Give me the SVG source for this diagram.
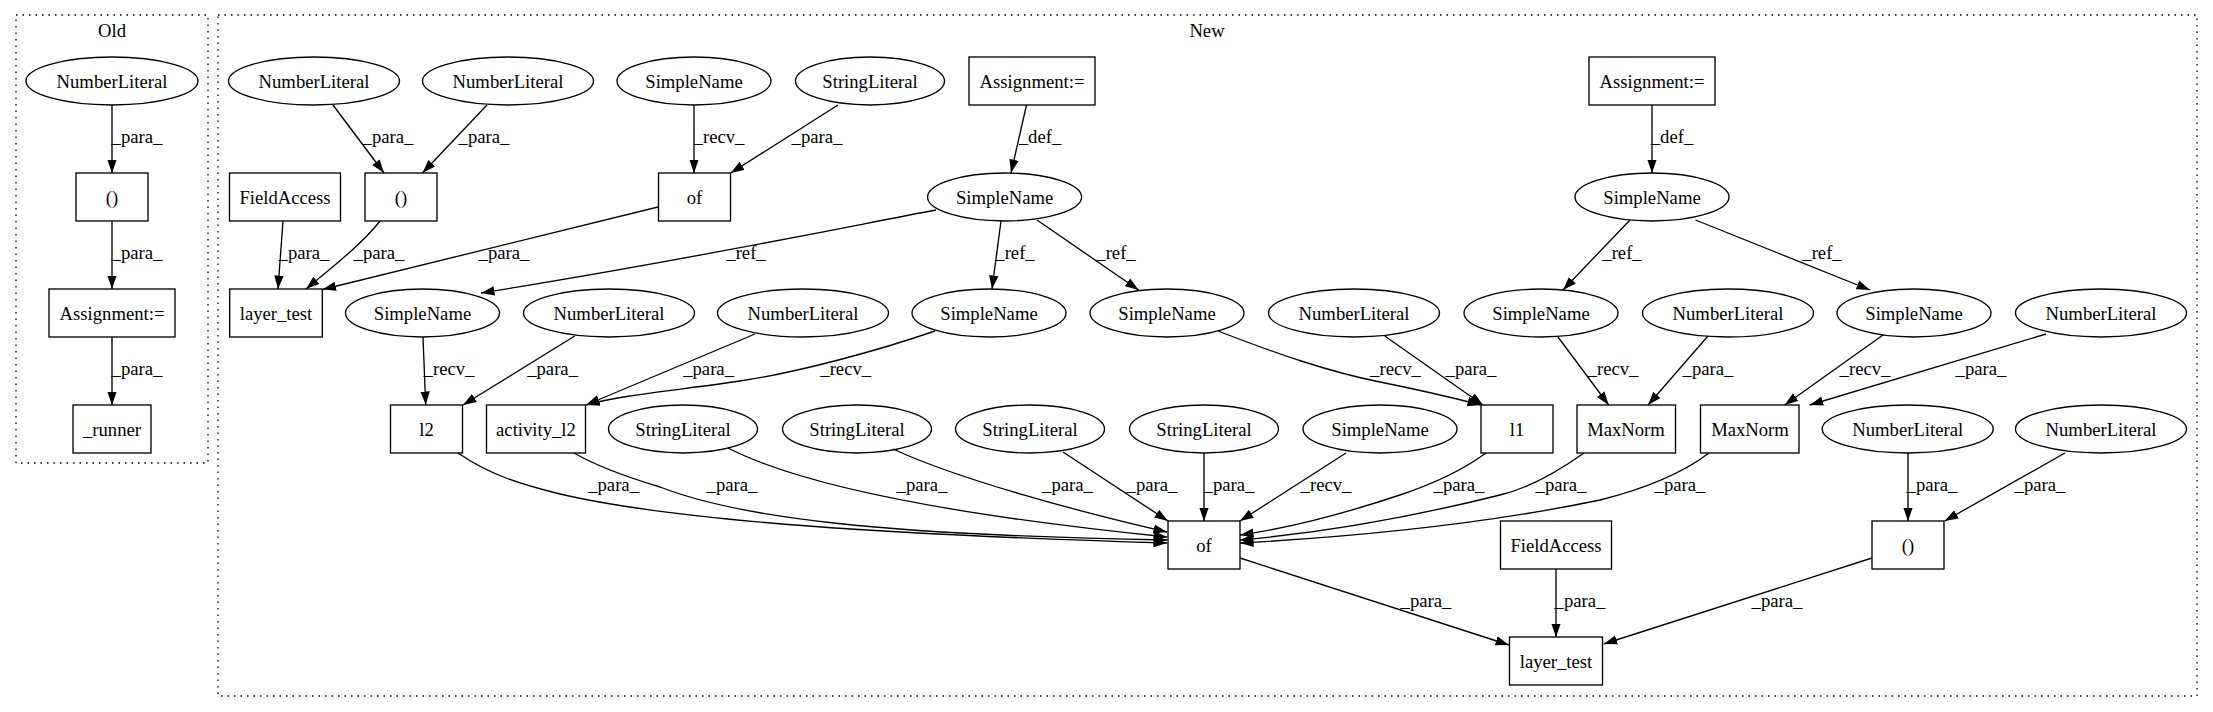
<svg xmlns="http://www.w3.org/2000/svg" width="2213" height="712" viewBox="0 0 2213 712" font-family="Liberation Serif, DejaVu Serif, serif">
<defs>
<style>
text{font-family:'Liberation Serif','DejaVu Serif',serif;font-size:18.67px;text-anchor:middle;fill:#000}
.n ellipse,.n rect{fill:none;stroke:#000;stroke-width:1.33}
.e path{fill:none;stroke:#000;stroke-width:1.33;marker-end:url(#ah)}
.cl{fill:none;stroke:#000;stroke-width:1.33;stroke-dasharray:1.5,5}
</style>
<marker id="ah" viewBox="0 0 14 10" markerWidth="14" markerHeight="10" refX="13.5" refY="5" orient="auto" markerUnits="userSpaceOnUse"><path d="M0,0.3 L13.5,5 L0,9.7 z" fill="#000"/></marker>
</defs>
<rect width="2213" height="712" fill="#fff"/>
<g id="clusters">
<rect class="cl" x="16" y="15" width="192" height="448"/>
<text x="112" y="37">Old</text>
<rect class="cl" x="218" y="15" width="1979" height="681"/>
<text x="1207" y="37">New</text>
</g>
<g id="old_nl" class="n"><ellipse cx="112" cy="81" rx="86" ry="24"/><text x="112" y="87.5">NumberLiteral</text></g>
<g id="old_paren" class="n"><rect x="76" y="173" width="72" height="48"/><text x="112" y="203.5">()</text></g>
<g id="old_assign" class="n"><rect x="49" y="289" width="126" height="48"/><text x="112" y="319.5">Assignment:=</text></g>
<g id="old_runner" class="n"><rect x="73" y="405" width="78" height="48"/><text x="112" y="435.5">_runner</text></g>
<g id="n_nl1" class="n"><ellipse cx="314" cy="81" rx="85.5" ry="24"/><text x="314" y="87.5">NumberLiteral</text></g>
<g id="n_nl2" class="n"><ellipse cx="508" cy="81" rx="85.5" ry="24"/><text x="508" y="87.5">NumberLiteral</text></g>
<g id="n_sn1" class="n"><ellipse cx="694" cy="81" rx="77" ry="24"/><text x="694" y="87.5">SimpleName</text></g>
<g id="n_sl1" class="n"><ellipse cx="870" cy="81" rx="74.5" ry="24"/><text x="870" y="87.5">StringLiteral</text></g>
<g id="n_as1" class="n"><rect x="969" y="57" width="126" height="48"/><text x="1032" y="87.5">Assignment:=</text></g>
<g id="n_as2" class="n"><rect x="1589" y="57" width="126" height="48"/><text x="1652" y="87.5">Assignment:=</text></g>
<g id="n_fa1" class="n"><rect x="229.5" y="173" width="111" height="48"/><text x="285" y="203.5">FieldAccess</text></g>
<g id="n_par1" class="n"><rect x="365" y="173" width="72" height="48"/><text x="401" y="203.5">()</text></g>
<g id="n_of1" class="n"><rect x="658.5" y="173" width="72" height="48"/><text x="694.5" y="203.5">of</text></g>
<g id="n_sn2" class="n"><ellipse cx="1004.6" cy="197" rx="77" ry="24"/><text x="1004.6" y="203.5">SimpleName</text></g>
<g id="n_sn3" class="n"><ellipse cx="1652" cy="197" rx="77" ry="24"/><text x="1652" y="203.5">SimpleName</text></g>
<g id="n_lt1" class="n"><rect x="229.7" y="289" width="92.6" height="48"/><text x="276" y="319.5">layer_test</text></g>
<g id="n_sn4" class="n"><ellipse cx="422.5" cy="313" rx="77" ry="24"/><text x="422.5" y="319.5">SimpleName</text></g>
<g id="n_nl3" class="n"><ellipse cx="609" cy="313" rx="85.5" ry="24"/><text x="609" y="319.5">NumberLiteral</text></g>
<g id="n_nl4" class="n"><ellipse cx="803" cy="313" rx="85.5" ry="24"/><text x="803" y="319.5">NumberLiteral</text></g>
<g id="n_sn5" class="n"><ellipse cx="989" cy="313" rx="77" ry="24"/><text x="989" y="319.5">SimpleName</text></g>
<g id="n_sn6" class="n"><ellipse cx="1167" cy="313" rx="77" ry="24"/><text x="1167" y="319.5">SimpleName</text></g>
<g id="n_nl5" class="n"><ellipse cx="1354" cy="313" rx="85.5" ry="24"/><text x="1354" y="319.5">NumberLiteral</text></g>
<g id="n_sn7" class="n"><ellipse cx="1541" cy="313" rx="77" ry="24"/><text x="1541" y="319.5">SimpleName</text></g>
<g id="n_nl6" class="n"><ellipse cx="1728" cy="313" rx="85.5" ry="24"/><text x="1728" y="319.5">NumberLiteral</text></g>
<g id="n_sn8" class="n"><ellipse cx="1914" cy="313" rx="77" ry="24"/><text x="1914" y="319.5">SimpleName</text></g>
<g id="n_nl7" class="n"><ellipse cx="2101" cy="313" rx="85.5" ry="24"/><text x="2101" y="319.5">NumberLiteral</text></g>
<g id="n_l2" class="n"><rect x="390.5" y="405" width="72" height="48"/><text x="426.5" y="435.5">l2</text></g>
<g id="n_al2" class="n"><rect x="486.5" y="405" width="99" height="48"/><text x="536" y="435.5">activity_l2</text></g>
<g id="n_sl2" class="n"><ellipse cx="683" cy="429" rx="74.5" ry="24"/><text x="683" y="435.5">StringLiteral</text></g>
<g id="n_sl3" class="n"><ellipse cx="857" cy="429" rx="74.5" ry="24"/><text x="857" y="435.5">StringLiteral</text></g>
<g id="n_sl4" class="n"><ellipse cx="1030" cy="429" rx="74.5" ry="24"/><text x="1030" y="435.5">StringLiteral</text></g>
<g id="n_sl5" class="n"><ellipse cx="1204" cy="429" rx="74.5" ry="24"/><text x="1204" y="435.5">StringLiteral</text></g>
<g id="n_sn9" class="n"><ellipse cx="1380" cy="429" rx="77" ry="24"/><text x="1380" y="435.5">SimpleName</text></g>
<g id="n_l1" class="n"><rect x="1481" y="405" width="72" height="48"/><text x="1517" y="435.5">l1</text></g>
<g id="n_mn1" class="n"><rect x="1577" y="405" width="98.5" height="48"/><text x="1626" y="435.5">MaxNorm</text></g>
<g id="n_mn2" class="n"><rect x="1700.5" y="405" width="98.5" height="48"/><text x="1750" y="435.5">MaxNorm</text></g>
<g id="n_nl8" class="n"><ellipse cx="1907.7" cy="429" rx="85.5" ry="24"/><text x="1907.7" y="435.5">NumberLiteral</text></g>
<g id="n_nl9" class="n"><ellipse cx="2101" cy="429" rx="85.5" ry="24"/><text x="2101" y="435.5">NumberLiteral</text></g>
<g id="n_of2" class="n"><rect x="1168" y="521" width="72" height="48"/><text x="1204" y="551.5">of</text></g>
<g id="n_fa2" class="n"><rect x="1500.5" y="521" width="111" height="48"/><text x="1556" y="551.5">FieldAccess</text></g>
<g id="n_par2" class="n"><rect x="1872" y="521" width="72" height="48"/><text x="1908" y="551.5">()</text></g>
<g id="n_lt2" class="n"><rect x="1509.5" y="637" width="93" height="48"/><text x="1556" y="667.5">layer_test</text></g>
<g id="connectors" class="e">
<path d="M112,105 L112,173"/><text x="137" y="143">_para_</text>
<path d="M112,221 L112,289"/><text x="137" y="259">_para_</text>
<path d="M112,337 L112,405"/><text x="137" y="375">_para_</text>
<path d="M333,105 L384,173"/><text x="388" y="143">_para_</text>
<path d="M487,105 L422.5,173"/><text x="484" y="143">_para_</text>
<path d="M694,105 L694,173"/><text x="719" y="143">_recv_</text>
<path d="M838,105 L730.7,173"/><text x="817" y="143">_para_</text>
<path d="M1026.5,105 L1011,173"/><text x="1040" y="143">_def_</text>
<path d="M1652,105 L1652,173"/><text x="1672" y="143">_def_</text>
<path d="M283,221 L278,289"/><text x="304" y="259">_para_</text>
<path d="M380,221 C362,244 336,264 306,289"/><text x="379" y="259">_para_</text>
<path d="M658,207 L322.5,289.5"/><text x="504" y="259">_para_</text>
<path d="M936,210 C860,224 700,258 481,293"/><text x="746" y="259">_ref_</text>
<path d="M1001,221 L992,289"/><text x="1015" y="259">_ref_</text>
<path d="M1037,220 L1138.6,290"/><text x="1116" y="259">_ref_</text>
<path d="M1630,220 L1563,290"/><text x="1622" y="259">_ref_</text>
<path d="M1695.5,220 L1870,290"/><text x="1822" y="259">_ref_</text>
<path d="M423,337 L425.7,405"/><text x="449" y="375">_recv_</text>
<path d="M574.7,336 L463,405"/><text x="552.6" y="375">_para_</text>
<path d="M755,334 L586,405"/><text x="708.6" y="375">_para_</text>
<path d="M935,331 C880,350 800,372 740,381 C680,390 620,395 586,405"/><text x="845.7" y="375">_recv_</text>
<path d="M1218,331 C1280,355 1330,372 1380,382 C1420,390 1450,397 1481,405"/><text x="1395.5" y="375">_recv_</text>
<path d="M1384.7,336 L1483,405"/><text x="1471" y="375">_para_</text>
<path d="M1558,337 L1608.7,405"/><text x="1613" y="375">_recv_</text>
<path d="M1708,336 L1648,405"/><text x="1708" y="375">_para_</text>
<path d="M1883,335 L1784.7,405"/><text x="1865" y="375">_recv_</text>
<path d="M2046,334 L1809.7,405"/><text x="1981" y="375">_para_</text>
<path d="M458,453 C490,475 520,484 560,494 C680,522 900,535 1167,543"/><text x="613.6" y="491">_para_</text>
<path d="M574,453 C600,468 630,478 660,487 C740,518 880,535 1167,540"/><text x="732" y="491">_para_</text>
<path d="M728,448 C800,485 950,515 1167,537"/><text x="922" y="491">_para_</text>
<path d="M893,449 C960,480 1080,512 1167,532"/><text x="1067.5" y="491">_para_</text>
<path d="M1063,452 L1168,521"/><text x="1152" y="491">_para_</text>
<path d="M1204,453 L1204,521"/><text x="1229" y="491">_para_</text>
<path d="M1346,453 L1240,521"/><text x="1326" y="491">_recv_</text>
<path d="M1486,453 C1460,472 1430,485 1400,495 C1340,515 1290,528 1240,535"/><text x="1459" y="491">_para_</text>
<path d="M1584,453 C1560,470 1530,488 1500,495 C1420,515 1330,532 1240,540"/><text x="1561" y="491">_para_</text>
<path d="M1709,453 C1680,475 1640,490 1600,500 C1480,525 1350,537 1240,543"/><text x="1680" y="491">_para_</text>
<path d="M1908,453 L1908,521"/><text x="1932" y="491">_para_</text>
<path d="M2065,453 L1944.7,521"/><text x="2040" y="491">_para_</text>
<path d="M1240,558 L1509,645"/><text x="1426" y="607">_para_</text>
<path d="M1556,569 L1556,637"/><text x="1580" y="607">_para_</text>
<path d="M1872,558 L1603.7,644"/><text x="1777" y="607">_para_</text>
</g>
</svg>
